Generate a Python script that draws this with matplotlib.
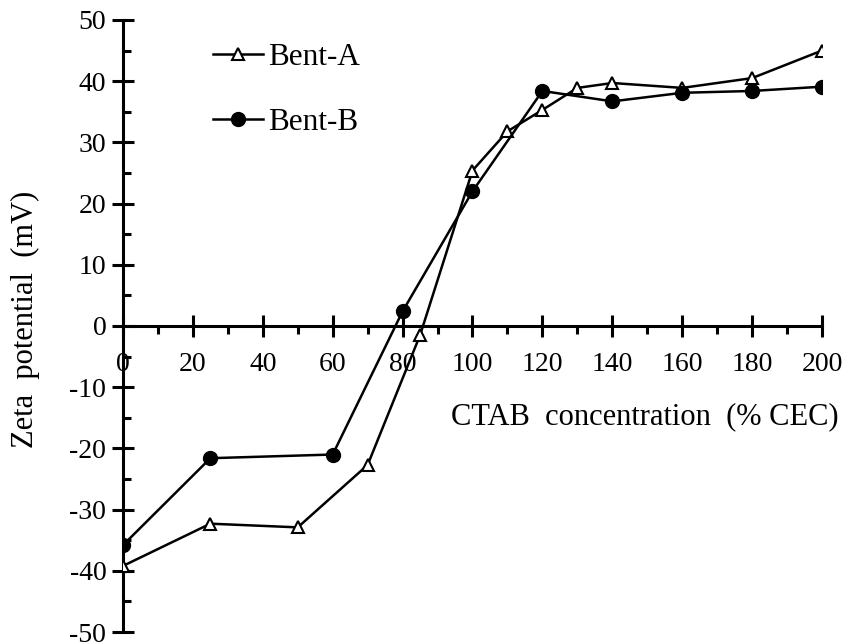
import numpy as np
import matplotlib.pyplot as plt
from matplotlib.ticker import MultipleLocator

plt.rcParams['font.family'] = ['Liberation Serif', 'DejaVu Serif']
plt.rcParams['axes.unicode_minus'] = False

# Zeta potential vs CTAB loading for the two bentonites
x_a = [0, 25, 50, 70, 85, 100, 110, 120, 130, 140, 160, 180, 200]
zeta_a = [-39.2, -32.3, -32.9, -22.7, -1.5, 25.4, 31.8, 35.3, 38.9, 39.7, 38.9, 40.5, 45.0]

x_b = [0, 25, 60, 80, 100, 120, 140, 160, 180, 200]
zeta_b = [-35.8, -21.6, -21.0, 2.4, 22.0, 38.4, 36.7, 38.1, 38.4, 39.1]

fig = plt.figure(figsize=(8.46, 6.44), dpi=100)
ax = fig.add_axes([0.1454, 0.0186, 0.8262, 0.9504])

ax.plot(x_a, zeta_a, color='black', lw=1.8, marker='^', ms=9,
        mfc='white', mec='black', mew=1.5, label='Bent-A', zorder=3)
ax.plot(x_b, zeta_b, color='black', lw=1.8, marker='o', ms=10,
        mfc='black', mec='black', label='Bent-B', zorder=3)

ax.set_xlim(0, 200)
ax.set_ylim(-50, 50)

# axes cross at the origin
ax.spines['left'].set_position(('data', 0))
ax.spines['bottom'].set_position(('data', 0))
ax.spines['top'].set_visible(False)
ax.spines['right'].set_visible(False)
for s in ('left', 'bottom'):
    ax.spines[s].set_linewidth(2.2)
for s in ax.spines.values():
    s.set_clip_on(False)

ax.xaxis.set_major_locator(MultipleLocator(20))
ax.xaxis.set_minor_locator(MultipleLocator(10))
ax.yaxis.set_major_locator(MultipleLocator(10))
ax.yaxis.set_minor_locator(MultipleLocator(5))

ax.tick_params(axis='both', which='major', direction='inout', length=16,
               width=2.2, labelsize=20)
ax.tick_params(axis='x', which='major', pad=11)
ax.tick_params(axis='y', which='major', pad=4)
ax.tick_params(axis='x', which='minor', direction='out', length=6, width=2.2)
ax.tick_params(axis='y', which='minor', direction='in', length=6, width=2.2)

ax.text(1.024, 0.352, 'CTAB  concentration  (% CEC)', fontsize=22,
        transform=ax.transAxes, ha='right', va='center')
ax.text(-0.139, 0.51, 'Zeta  potential  (mV)', fontsize=22, rotation=90,
        ha='center', va='center', transform=ax.transAxes)

ax.legend(loc='upper left', bbox_to_anchor=(0.129, 0.962), frameon=False,
          fontsize=22.5, handlelength=1.6, handletextpad=0.15, labelspacing=1.15,
          borderpad=0, borderaxespad=0)

fig.savefig('out.png', dpi=100)
